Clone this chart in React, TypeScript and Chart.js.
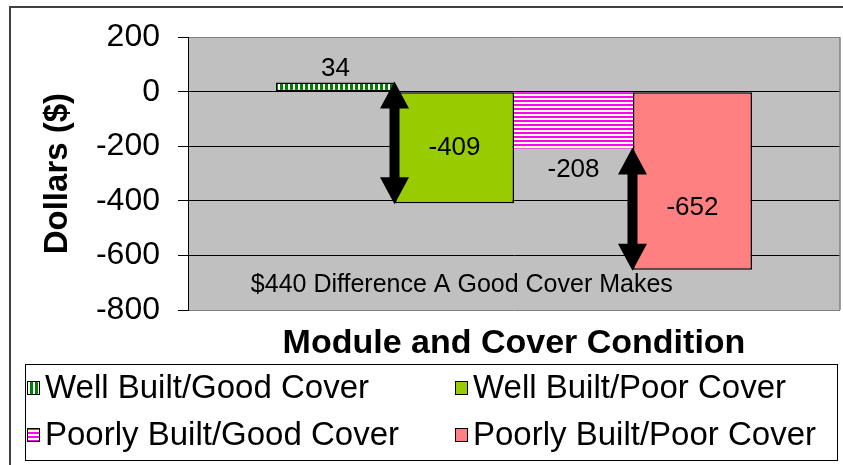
import { useEffect, useRef } from "react";
import { Chart, registerables } from "chart.js";

Chart.register(...registerables);

const categories = ["Module and Cover Condition"];
const seriesLabels = [
  "Well Built/Good Cover",
  "Well Built/Poor Cover",
  "Poorly Built/Good Cover",
  "Poorly Built/Poor Cover",
];
const seriesValues = [34, -409, -208, -652];
const yTicks = [200, 0, -200, -400, -600, -800];
const noteText = "$440 Difference A Good Cover Makes";
const noteValue = -710;
const arrowPairs = [
  [0, 1],
  [2, 3],
];

const FONT = "'Liberation Sans', Arial, sans-serif";

function stripes(vertical: boolean, a: string, b: string, aSize: number, bSize: number) {
  const c = document.createElement("canvas");
  const n = aSize + bSize;
  c.width = vertical ? n : 1;
  c.height = vertical ? 1 : n;
  const x = c.getContext("2d")!;
  x.fillStyle = b;
  x.fillRect(0, 0, c.width, c.height);
  x.fillStyle = a;
  if (vertical) x.fillRect(0, 0, aSize, 1);
  else x.fillRect(0, 0, 1, aSize);
  return x.createPattern(c, "repeat")!;
}

function drawArrow(ctx: CanvasRenderingContext2D, x: number, y1: number, y2: number) {
  const hw = 29 / 2;
  const hh = 27;
  const sw = 10 / 2;
  ctx.beginPath();
  ctx.moveTo(x, y1);
  ctx.lineTo(x + hw, y1 + hh);
  ctx.lineTo(x + sw, y1 + hh);
  ctx.lineTo(x + sw, y2 - hh);
  ctx.lineTo(x + hw, y2 - hh);
  ctx.lineTo(x, y2);
  ctx.lineTo(x - hw, y2 - hh);
  ctx.lineTo(x - sw, y2 - hh);
  ctx.lineTo(x - sw, y1 + hh);
  ctx.lineTo(x - hw, y1 + hh);
  ctx.closePath();
  ctx.fillStyle = "#000";
  ctx.fill();
}

export default function App() {
  const ref = useRef<HTMLCanvasElement>(null);

  useEffect(() => {
    const canvas = ref.current!;
    const greenPat = stripes(true, "#008000", "#FFFFFF", 3, 2);
    const pinkPat = stripes(false, "#FF00FF", "#FFFFCC", 2, 2);
    const fills: any[] = [greenPat, "#99CC00", pinkPat, "#FF8080"];
    const borders = ["#000", "#000", "rgba(0,0,0,0)", "#000"];

    const decor = {
      id: "decor",
      beforeDraw(chart: any) {
        const { ctx, chartArea: a } = chart;
        ctx.save();
        ctx.fillStyle = "#FFFFFF";
        ctx.fillRect(0, 0, chart.width, chart.height);
        ctx.fillStyle = "#C0C0C0";
        ctx.fillRect(a.left, a.top, a.right - a.left, a.bottom - a.top);
        ctx.restore();
      },
      afterDatasetsDraw(chart: any) {
        const { ctx, chartArea: a } = chart;
        const bars = seriesValues.map((_, i) => chart.getDatasetMeta(i).data[0] as any);
        ctx.save();
        ctx.strokeStyle = "#808080";
        ctx.lineWidth = 1.5;
        ctx.beginPath();
        ctx.moveTo(a.right, a.top);
        ctx.lineTo(a.right, a.bottom);
        ctx.stroke();

        arrowPairs.forEach(([i, j]) => {
          const x = (bars[i].x + bars[j].x) / 2 - 0.5;
          const yA = bars[i].y;
          const yB = bars[j].y;
          drawArrow(ctx, x, Math.min(yA, yB) - 1, Math.max(yA, yB) + 1);
        });

        ctx.fillStyle = "#000";
        ctx.font = `26px ${FONT}`;
        ctx.textAlign = "center";
        ctx.textBaseline = "middle";
        bars.forEach((b: any, i: number) => {
          const top = Math.min(b.y, b.base);
          const bottom = Math.max(b.y, b.base);
          let y = (top + bottom) / 2;
          if (i === 0) y = top - 14;
          if (i === 2) y = bottom + 21;
          if (i === 3) y = (top + bottom) / 2 + 27;
          ctx.fillText(String(seriesValues[i]), b.x, y);
        });

        ctx.font = `25px ${FONT}`;
        ctx.fillText(noteText, a.left + (a.right - a.left) * 0.42, chart.scales.y.getPixelForValue(noteValue));
        ctx.restore();
      },
      afterDraw(chart: any) {
        const { ctx } = chart;
        ctx.save();
        ctx.strokeStyle = "#404040";
        ctx.lineWidth = 2;
        ctx.beginPath();
        ctx.moveTo(10, chart.height + 5);
        ctx.lineTo(10, 7);
        ctx.lineTo(chart.width + 5, 7);
        ctx.stroke();

        ctx.strokeStyle = "#000";
        ctx.lineWidth = 1;
        ctx.strokeRect(25.5, 364.5, 812, 96);
        const cols = [27, 455];
        const rows = [388, 435];
        ctx.font = `33px ${FONT}`;
        ctx.textAlign = "left";
        ctx.textBaseline = "middle";
        seriesLabels.forEach((label, i) => {
          const x = cols[i % 2];
          const y = rows[Math.floor(i / 2)];
          ctx.fillStyle = fills[i];
          ctx.fillRect(x, y - 7, 13, 14);
          ctx.strokeStyle = "#000";
          ctx.strokeRect(x + 0.5, y - 6.5, 12, 13);
          ctx.fillStyle = "#000";
          ctx.fillText(label, x + 18, y + 1);
        });
        ctx.restore();
      },
    };

    const chart = new Chart(canvas, {
      type: "bar",
      data: {
        labels: categories,
        datasets: seriesLabels.map((label, i) => ({
          label,
          data: [seriesValues[i]],
          backgroundColor: fills[i],
          borderColor: borders[i],
          borderWidth: i === 2 ? 0 : 1.5,
          borderSkipped: false,
          categoryPercentage: 0.73,
          barPercentage: 1,
        })),
      },
      options: {
        responsive: false,
        animation: false,
        layout: { padding: { left: 10, top: 35, right: 3, bottom: 101 } },
        plugins: {
          legend: { display: false },
          tooltip: { enabled: false },
        },
        scales: {
          x: {
            type: "category",
            ticks: { display: false },
            grid: { display: false },
            border: { display: false },
            title: {
              display: true,
              text: categories[0],
              color: "#000",
              font: { family: FONT, size: 34, weight: "bold" },
              padding: { top: 0, bottom: 0 },
            },
            afterFit: (s: any) => {
              s.height = 54;
            },
          },
          y: {
            min: -800,
            max: 200,
            afterBuildTicks: (s: any) => {
              s.ticks = yTicks.map((v) => ({ value: v }));
            },
            ticks: {
              color: "#000",
              padding: 18,
              font: { family: FONT, size: 32 },
              callback: (v: any) => String(v),
            },
            grid: {
              color: (c: any) =>
                c.tick && (c.tick.value === 200 || c.tick.value === -800) ? "#808080" : "#000",
              tickColor: "#000",
              tickLength: 10,
              lineWidth: 1,
            },
            border: { color: "#000", width: 1 },
            title: {
              display: true,
              text: "Dollars ($)",
              color: "#000",
              font: { family: FONT, size: 33, weight: "bold" },
              padding: { top: 28, bottom: 0 },
            },
            afterFit: (s: any) => {
              s.width = 178;
            },
          },
        },
      },
      plugins: [decor],
    } as any);

    return () => chart.destroy();
  }, []);

  return (
    <div style={{ position: "fixed", left: 0, top: 0, width: 843, height: 465 }}>
      <canvas ref={ref} width={843} height={465} style={{ width: 843, height: 465, display: "block" }} />
    </div>
  );
}
